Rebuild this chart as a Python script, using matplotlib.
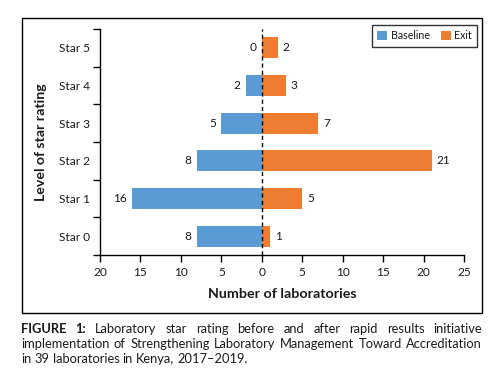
import matplotlib
matplotlib.use("Agg")
import matplotlib.pyplot as plt
from matplotlib.patches import Rectangle
from matplotlib.ticker import FuncFormatter, FixedLocator

categories = ["Star 0", "Star 1", "Star 2", "Star 3", "Star 4", "Star 5"]
baseline = [8, 16, 8, 5, 2, 0]
exit_vals = [1, 5, 21, 7, 3, 2]
series_names = ["Baseline", "Exit"]
xticks = [-20, -15, -10, -5, 0, 5, 10, 15, 20, 25]
xlabel = "Number of laboratories"
ylabel = "Level of star rating"
caption_bold = "FIGURE 1:"
caption_lines = [
    "Laboratory star rating before and after rapid results initiative",
    "implementation of Strengthening Laboratory Management Toward Accreditation",
    "in 39 laboratories in Kenya, 2017\u20132019.",
]

BLUE = "#5B9BD5"
ORANGE = "#ED7D31"
TXT = "#1a1a1a"
FONT = "Lato"
plt.rcParams["font.family"] = [FONT, "DejaVu Sans"]

fig = plt.figure(figsize=(5, 3.79), dpi=100)
fig.patch.set_facecolor("white")
fig.canvas.draw()
renderer = fig.canvas.get_renderer()
W = fig.bbox.width
H = fig.bbox.height


def fit_size(s, target_px, weight="normal", rotation=0):
    t = fig.text(0, 0, s, fontsize=10, fontweight=weight)
    w = t.get_window_extent(renderer=renderer).width
    t.remove()
    return 10.0 * target_px / w


tick_fs = fit_size("Star 5", 31)
xlab_fs = fit_size(xlabel, 149, "bold")
ylab_fs = fit_size(ylabel, 118, "bold")
leg_fs = fit_size("Baseline", 39)
cap_fs = fit_size(caption_lines[2], 229 - 0)

# outer frame
fig.patches.append(Rectangle((21.5 / W, 1 - 313 / H), (482 - 21.5) / W, (313 - 18) / H,
                             transform=fig.transFigure, fill=False, edgecolor="black", lw=1.0))

ax = fig.add_axes([100 / W, 1 - 255 / H, 364 / W, 226 / H])
y = list(range(len(categories)))
h = 0.55
ax.barh(y, [-v for v in baseline], height=h, color=BLUE, label=series_names[0])
ax.barh(y, exit_vals, height=h, color=ORANGE, label=series_names[1])
ax.axvline(0, color="black", lw=1.0, ls=(0, (3, 2.2)))

for yi, b, e in zip(y, baseline, exit_vals):
    ax.annotate(str(b), (-b, yi), xytext=(-4, 0), textcoords="offset points",
                ha="right", va="center", fontsize=tick_fs, color=TXT)
    ax.annotate(str(e), (e, yi), xytext=(3.5, 0), textcoords="offset points",
                ha="left", va="center", fontsize=tick_fs, color=TXT)

ax.set_xlim(-20, 25)
ax.set_ylim(-0.5, 5.5)
ax.set_xticks(xticks)
ax.xaxis.set_major_formatter(FuncFormatter(lambda v, p: f"{abs(int(v))}"))
ax.set_yticks(y)
ax.set_yticklabels(categories)
ax.yaxis.set_minor_locator(FixedLocator([i - 0.5 for i in range(len(categories) + 1)]))
ax.tick_params(axis="y", which="major", length=0, pad=7.2, labelsize=tick_fs, labelcolor=TXT)
ax.tick_params(axis="y", which="minor", length=5, width=1)
ax.tick_params(axis="x", length=5, width=1, labelsize=tick_fs, pad=4, labelcolor=TXT)
for s in ["top", "right"]:
    ax.spines[s].set_visible(False)
for s in ["left", "bottom"]:
    ax.spines[s].set_linewidth(1.0)

ax.set_xlabel(xlabel, fontsize=xlab_fs, fontweight="bold", labelpad=7, color=TXT)
ax.set_ylabel(ylabel, fontsize=ylab_fs, fontweight="bold", labelpad=8.5, color=TXT)

leg = ax.legend(loc="upper right", bbox_to_anchor=(477 / W, 1 - 25 / H), bbox_transform=fig.transFigure,
                ncol=2, fontsize=leg_fs, frameon=True, fancybox=False, handlelength=0.95,
                handleheight=0.9, handletextpad=0.3, columnspacing=1.05, borderpad=0.5,
                borderaxespad=0)
leg.get_frame().set_edgecolor("black")
leg.get_frame().set_linewidth(1.0)
for t in leg.get_texts():
    t.set_color(TXT)

# caption with justification
left_px, right_px = 21, 482
line_y_px = [329, 344, 359]


def width_of(t):
    return t.get_window_extent(renderer=renderer).width


for li, line in enumerate(caption_lines):
    words = line.split(" ")
    if li == 0:
        items = [(w, "bold") for w in caption_bold.split(" ")] + [(w, "normal") for w in words]
    else:
        items = [(w, "normal") for w in words]
    texts = []
    for w, wt in items:
        t = fig.text(0, 1 - line_y_px[li] / H, w, fontsize=cap_fs, fontweight=wt,
                     ha="left", va="center", color=TXT)
        texts.append(t)
    widths = [width_of(t) for t in texts]
    total = sum(widths)
    if li < len(caption_lines) - 1:
        gap = (right_px - left_px - total) / (len(texts) - 1)
    else:
        sp = fig.text(0, 0, "a a", fontsize=cap_fs)
        sp2 = fig.text(0, 0, "aa", fontsize=cap_fs)
        gap = width_of(sp) - width_of(sp2)
        sp.remove()
        sp2.remove()
    x = left_px
    for t, wdt in zip(texts, widths):
        t.set_x(x / W)
        x += wdt + gap

fig.savefig("out.png", dpi=100, facecolor="white")
